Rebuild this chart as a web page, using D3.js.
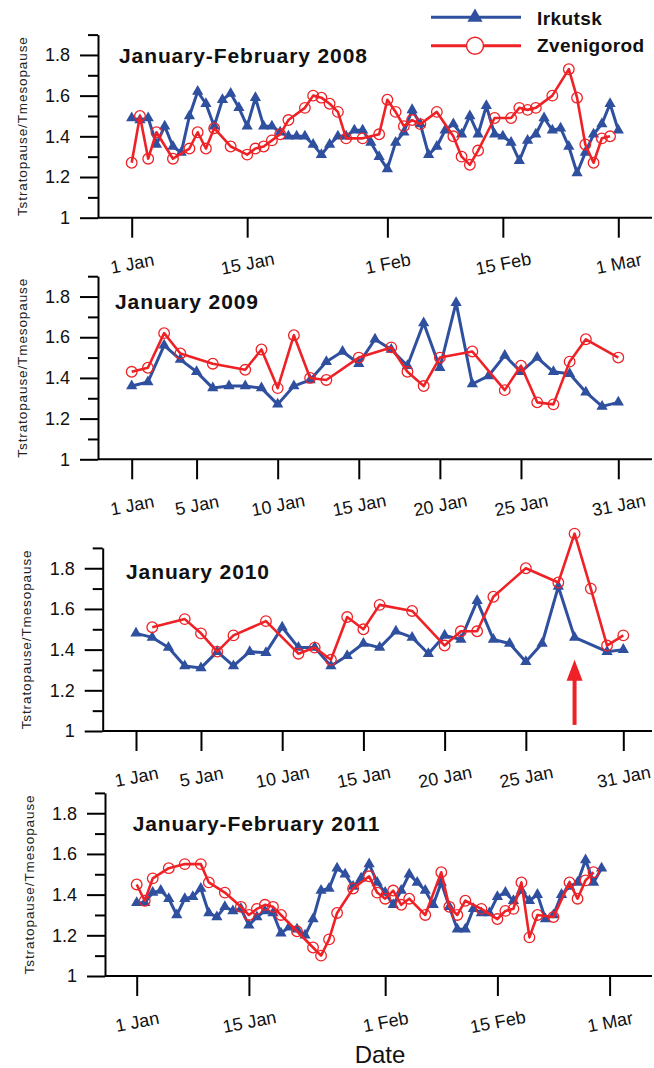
<!DOCTYPE html>
<html lang="en">
<head>
<meta charset="UTF-8">
<title>Tstratopause/Tmesopause</title>
<script src="https://d3js.org/d3.v7.min.js"></script>
<style>
  body { margin: 0; background: #fff; }
  svg { display: block; font-family: Arial, "Liberation Sans", sans-serif; }
</style>
</head>
<body>
<div id="chart"></div>
<script>
// x ticks (day of year) and their labels
const ticksJanFeb = [1, 15, 32, 46, 60];
const labelsJanFeb = ["1 Jan", "15 Jan", "1 Feb", "15 Feb", "1 Mar"];
const ticksJan = [1, 5, 10, 15, 20, 25, 31];
const labelsJan = ["1 Jan", "5 Jan", "10 Jan", "15 Jan", "20 Jan", "25 Jan", "31 Jan"];
const yTicks = [1, 1.2, 1.4, 1.6, 1.8];
const yMinor = [1.1, 1.3, 1.5, 1.7, 1.9];

// [day, Tstratopause/Tmesopause]
const irkutsk2008 = [[1,1.49],[2,1.48],[3,1.49],[4,1.36],[5,1.45],[6,1.35],[7,1.32],[8,1.50],[9,1.62],[10,1.56],
  [11,1.45],[12,1.58],[13,1.61],[14,1.54],[15,1.45],[16,1.59],[17,1.45],[18,1.45],[19,1.42],[20,1.40],
  [21,1.40],[22,1.40],[23,1.36],[24,1.31],[25,1.36],[26,1.40],[27,1.40],[28,1.43],[29,1.43],[30,1.37],
  [31,1.30],[32,1.24],[33,1.37],[34,1.42],[35,1.53],[36,1.46],[37,1.31],[38,1.35],[39,1.43],[40,1.46],
  [41,1.41],[42,1.50],[43,1.41],[44,1.55],[45,1.41],[46,1.40],[47,1.37],[48,1.28],[49,1.38],[50,1.41],
  [51,1.49],[52,1.43],[53,1.44],[54,1.35],[55,1.22],[56,1.32],[57,1.41],[58,1.46],[59,1.56],[60,1.43]];
const zvenigorod2008 = [[1,1.27],[2,1.50],[3,1.29],[4,1.42],[6,1.29],[8,1.34],[9,1.42],[10,1.34],[11,1.44],
  [13,1.35],[15,1.31],[16,1.34],[17,1.35],[18,1.38],[19,1.41],[20,1.48],[22,1.54],[23,1.60],[24,1.59],
  [25,1.56],[26,1.52],[27,1.39],[29,1.39],[31,1.41],[32,1.58],[33,1.52],[34,1.45],[35,1.48],[36,1.46],
  [38,1.52],[40,1.40],[41,1.30],[42,1.26],[43,1.33],[45,1.49],[47,1.49],[48,1.54],[49,1.53],[50,1.54],
  [52,1.60],[54,1.73],[55,1.59],[56,1.36],[57,1.27],[58,1.39],[59,1.40]];

const irkutsk2009 = [[1,1.36],[2,1.38],[3,1.56],[4,1.49],[5,1.43],[6,1.35],[7,1.36],[8,1.36],[9,1.35],[10,1.27],
  [11,1.36],[12,1.39],[13,1.48],[14,1.53],[15,1.47],[16,1.59],[17,1.54],[18,1.46],[19,1.67],[20,1.45],
  [21,1.77],[22,1.37],[23,1.41],[24,1.51],[25,1.43],[26,1.50],[27,1.43],[28,1.42],[29,1.33],[30,1.26],[31,1.28]];
const zvenigorod2009 = [[1,1.43],[2,1.45],[3,1.62],[4,1.52],[6,1.47],[8,1.44],[9,1.54],[10,1.35],[11,1.61],
  [12,1.40],[13,1.39],[15,1.50],[17,1.55],[18,1.43],[19,1.36],[20,1.50],[22,1.53],[24,1.34],[25,1.46],
  [26,1.28],[27,1.27],[28,1.48],[29,1.59],[31,1.50]];

const irkutsk2010 = [[1,1.48],[2,1.46],[3,1.41],[4,1.32],[5,1.31],[6,1.39],[7,1.32],[8,1.39],[9,1.385],[10,1.51],
  [11,1.41],[12,1.41],[13,1.32],[14,1.37],[15,1.43],[16,1.41],[17,1.49],[18,1.46],[19,1.38],[20,1.47],
  [21,1.45],[22,1.64],[23,1.45],[24,1.43],[25,1.34],[26,1.43],[27,1.71],[28,1.46],[30,1.39],[31,1.40]];
const zvenigorod2010 = [[2,1.51],[4,1.55],[5,1.48],[6,1.39],[7,1.47],[9,1.54],[11,1.38],[12,1.41],[13,1.35],
  [14,1.56],[15,1.50],[16,1.62],[18,1.59],[20,1.42],[21,1.49],[22,1.49],[23,1.66],[25,1.80],[27,1.73],
  [28,1.97],[29,1.70],[30,1.42],[31,1.47]];

const irkutsk2011 = [[1,1.36],[2,1.36],[3,1.41],[4,1.42],[5,1.38],[6,1.30],[7,1.38],[8,1.39],[9,1.43],[10,1.31],
  [11,1.29],[12,1.34],[13,1.32],[14,1.33],[15,1.25],[16,1.29],[17,1.32],[18,1.31],[19,1.21],[20,1.24],
  [21,1.23],[22,1.20],[23,1.28],[24,1.42],[25,1.43],[26,1.53],[27,1.50],[28,1.44],[29,1.48],[30,1.55],
  [31,1.46],[32,1.41],[33,1.35],[34,1.42],[35,1.50],[36,1.46],[37,1.42],[38,1.35],[39,1.46],[40,1.34],
  [41,1.23],[42,1.23],[43,1.33],[44,1.31],[45,1.31],[46,1.39],[47,1.41],[48,1.37],[49,1.42],[50,1.37],
  [51,1.40],[52,1.28],[53,1.30],[54,1.40],[55,1.44],[56,1.46],[57,1.57],[58,1.46],[59,1.53]];
const zvenigorod2011 = [[1,1.45],[2,1.37],[3,1.48],[5,1.53],[7,1.55],[9,1.55],[10,1.46],[12,1.41],[14,1.34],
  [15,1.30],[16,1.33],[17,1.35],[18,1.34],[19,1.30],[21,1.22],[23,1.14],[24,1.10],[25,1.18],[26,1.31],
  [28,1.43],[30,1.49],[31,1.41],[32,1.38],[33,1.42],[34,1.35],[35,1.38],[37,1.30],[39,1.51],[40,1.34],
  [41,1.30],[42,1.37],[44,1.33],[46,1.28],[47,1.32],[48,1.33],[49,1.46],[50,1.19],[51,1.30],[53,1.29],
  [55,1.46],[56,1.38],[57,1.47],[58,1.51]];

// the red arrow under the 28 Jan 2010 peak
const arrow2010 = { day: 28, from: 1.03, to: 1.35 };

const blue = "#2f4f9f", red = "#ee2226";
const width = 654, height = 1068;

const panels = [
  { title: "January-February 2008", irk: irkutsk2008, zve: zvenigorod2008, ticks: ticksJanFeb, labels: labelsJanFeb,
    lastDay: 60, left: 98, bottom: 217.7, x0: 131.7, x1: 618.3, tx: 119, ty: 63 },
  { title: "January 2009", irk: irkutsk2009, zve: zvenigorod2009, ticks: ticksJan, labels: labelsJan,
    lastDay: 31, left: 98, bottom: 459.3, x0: 131.7, x1: 618.3, tx: 115, ty: 309 },
  { title: "January 2010", irk: irkutsk2010, zve: zvenigorod2010, ticks: ticksJan, labels: labelsJan,
    lastDay: 31, left: 102.7, bottom: 731, x0: 136, x1: 623.3, tx: 126, ty: 579, arrow: arrow2010 },
  { title: "January-February 2011", irk: irkutsk2011, zve: zvenigorod2011, ticks: ticksJanFeb, labels: labelsJanFeb,
    lastDay: 60, left: 105, bottom: 976, x0: 136.7, x1: 609.6, tx: 132.7, ty: 831 }
];

const svg = d3.select("#chart").append("svg")
  .attr("width", width)
  .attr("height", height);

panels.forEach(p => {
  const x = d3.scaleLinear().domain([1, p.lastDay]).range([p.x0, p.x1]);
  const y = d3.scaleLinear().domain([1, 1.9]).range([p.bottom, p.bottom - 183.1]);
  const g = svg.append("g");

  // y axis, major + minor ticks
  const ya = g.append("g").attr("transform", `translate(${p.left},0)`)
    .call(d3.axisLeft(y).tickValues(yTicks).tickSize(18).tickSizeOuter(0).tickPadding(10)
      .tickFormat(v => v === 1 ? "1" : d3.format(".1f")(v)));
  g.append("g").attr("transform", `translate(${p.left},0)`)
    .call(d3.axisLeft(y).tickValues(yMinor).tickSize(10).tickFormat(""))
    .select(".domain").remove();

  // x axis
  const xa = g.append("g").attr("transform", `translate(0,${y(1)})`)
    .call(d3.axisBottom(x).tickValues(p.ticks).tickSize(20).tickFormat((d, i) => p.labels[i]));
  xa.select(".domain").remove();
  g.append("line")
    .attr("x1", p.left).attr("x2", width - 2)
    .attr("y1", y(1)).attr("y2", y(1))
    .attr("stroke", "#000").attr("stroke-width", 2);

  g.selectAll(".tick line").attr("stroke", "#000").attr("stroke-width", 2);
  ya.select(".domain").attr("stroke", "#000").attr("stroke-width", 2);
  g.selectAll("g").attr("font-size", null).attr("font-family", null);

  ya.selectAll("text").style("font-size", "18px").attr("fill", "#111");
  xa.selectAll("text")
    .attr("y", null).attr("dy", null)
    .attr("dominant-baseline", "central")
    .attr("transform", "translate(0,46) rotate(-11)")
    .style("font-size", "18px").attr("fill", "#111");

  // y label
  g.append("text")
    .attr("transform", `translate(${p.left - 76},${y(1.45)}) rotate(-90)`)
    .attr("text-anchor", "middle")
    .attr("dominant-baseline", "central")
    .style("font-size", "13.5px")
    .style("letter-spacing", "0.9px")
    .attr("fill", "#222")
    .text("Tstratopause/Tmesopause");

  // title
  g.append("text")
    .attr("x", p.tx).attr("y", p.ty)
    .style("font-size", "21px").style("font-weight", "bold")
    .style("letter-spacing", "0.9px")
    .attr("fill", "#111")
    .text(p.title);

  const line = d3.line().x(d => x(d[0])).y(d => y(d[1]));

  // Irkutsk
  g.append("path").datum(p.irk)
    .attr("d", line).attr("fill", "none")
    .attr("stroke", blue).attr("stroke-width", 3).attr("stroke-linejoin", "round");
  g.selectAll(".tri").data(p.irk).join("path")
    .attr("class", "tri")
    .attr("transform", d => `translate(${x(d[0])},${y(d[1])})`)
    .attr("d", d3.symbol(d3.symbolTriangle, 55))
    .attr("fill", blue);

  // Zvenigorod
  g.append("path").datum(p.zve)
    .attr("d", line).attr("fill", "none")
    .attr("stroke", red).attr("stroke-width", 2.6).attr("stroke-linejoin", "round");
  g.selectAll(".circ").data(p.zve).join("circle")
    .attr("class", "circ")
    .attr("cx", d => x(d[0])).attr("cy", d => y(d[1]))
    .attr("r", 5.3)
    .attr("fill", "none")
    .attr("stroke", red).attr("stroke-width", 1.3);

  if (p.arrow) {
    const ax = x(p.arrow.day), tip = y(p.arrow.to);
    g.append("line")
      .attr("x1", ax).attr("x2", ax)
      .attr("y1", y(p.arrow.from)).attr("y2", tip + 14)
      .attr("stroke", red).attr("stroke-width", 4);
    g.append("path")
      .attr("d", `M${ax},${tip} L${ax - 8},${tip + 21} L${ax + 8},${tip + 21} Z`)
      .attr("fill", red);
  }
});

// legend
const legend = svg.append("g");
const legendItems = [
  { name: "Irkutsk", color: blue, y: 17.3, ty: 25 },
  { name: "Zvenigorod", color: red, y: 45.7, ty: 52 }
];
legendItems.forEach((it, i) => {
  legend.append("line")
    .attr("x1", 431).attr("x2", 521).attr("y1", it.y).attr("y2", it.y)
    .attr("stroke", it.color).attr("stroke-width", 3);
  if (i === 0) {
    legend.append("path")
      .attr("transform", `translate(475,${it.y})`)
      .attr("d", d3.symbol(d3.symbolTriangle, 100))
      .attr("fill", it.color);
  } else {
    legend.append("circle")
      .attr("cx", 475).attr("cy", it.y).attr("r", 8.5)
      .attr("fill", "#fff").attr("stroke", it.color).attr("stroke-width", 1.5);
  }
  legend.append("text")
    .attr("x", 537).attr("y", it.ty)
    .style("font-size", "19px").style("font-weight", "bold")
    .style("letter-spacing", "0.4px")
    .attr("fill", "#111")
    .text(it.name);
});

// x axis title
svg.append("text")
  .attr("x", 380).attr("y", 1063)
  .attr("text-anchor", "middle")
  .style("font-size", "24px")
  .attr("fill", "#111")
  .text("Date");
</script>
</body>
</html>
